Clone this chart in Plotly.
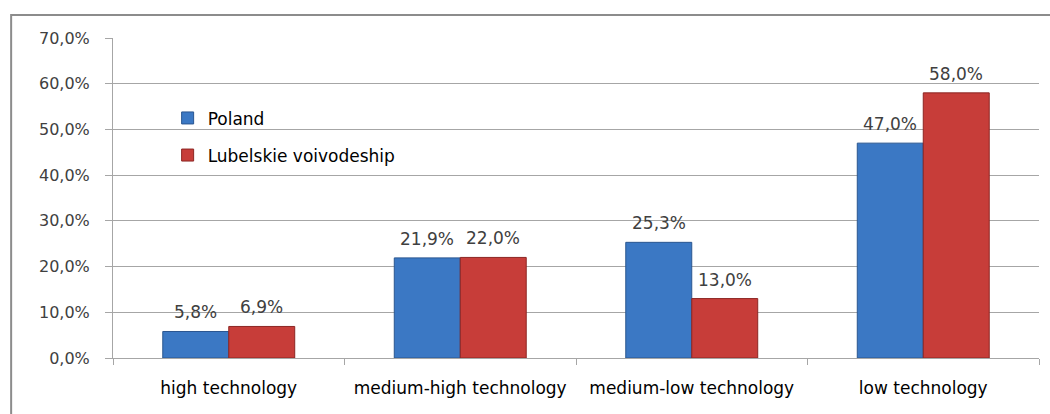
import plotly.graph_objects as go

categories = ["high technology", "medium-high technology", "medium-low technology", "low technology"]
poland = [5.8, 21.9, 25.3, 47.0]
lubelskie = [6.9, 22.0, 13.0, 58.0]
series_names = ["Poland", "Lubelskie voivodeship"]
y_ticks = [0, 10, 20, 30, 40, 50, 60, 70]
y_tick_labels = [f"{v:.1f}%".replace(".", ",") for v in y_ticks]

NUM_FONT = dict(family="DejaVu Sans", size=16, color="#404040")
LABEL_FONT = dict(family="DejaVu Sans", size=17, color="#404040")
GRID = "#a6a6a6"
BAR_HALF_OFFSET = 33  # px between group centre and each bar's centre

fig = go.Figure()
fig.add_trace(go.Bar(
    name=series_names[0], x=categories, y=poland,
    marker=dict(color="#3b78c4", line=dict(color="#2a5690", width=1)),
    legendgroup="a",
))
fig.add_trace(go.Bar(
    name=series_names[1], x=categories, y=lubelskie,
    marker=dict(color="#c73d39", line=dict(color="#8c2623", width=1)),
    legendgroup="b",
))

# value labels above each bar
annotations = []
for series, shift in ((poland, -BAR_HALF_OFFSET), (lubelskie, BAR_HALF_OFFSET)):
    for cat, val in zip(categories, series):
        annotations.append(dict(
            x=cat, y=val, xref="x", yref="y",
            text=f"{val:.1f}%".replace(".", ","),
            showarrow=False, xshift=shift, yshift=7,
            xanchor="center", yanchor="bottom", font=LABEL_FONT,
        ))

fig.update_layout(
    width=1050, height=414,
    margin=dict(l=113, r=11, t=38, b=56),
    paper_bgcolor="white", plot_bgcolor="white",
    separators=",.",
    barmode="group", bargap=0.43, bargroupgap=0,
    showlegend=True,
    legend=dict(
        x=0.059, y=0.805, xanchor="left", yanchor="top",
        bgcolor="rgba(0,0,0,0)", tracegroupgap=12,
        font=dict(family="DejaVu Sans", size=17, color="#000000"),
    ),
    xaxis=dict(
        showgrid=False, showline=True, linecolor=GRID, linewidth=1,
        ticks="outside", tickson="boundaries", ticklen=6, tickcolor=GRID,
        tickfont=dict(family="DejaVu Sans", size=17, color="#000000"),
        ticklabelstandoff=15,
    ),
    yaxis=dict(
        range=[0, 70], tickvals=y_ticks, ticktext=y_tick_labels,
        showgrid=True, gridcolor=GRID, gridwidth=1,
        showline=True, linecolor=GRID, linewidth=1, zeroline=False,
        ticks="outside", ticklen=7, tickcolor=GRID,
        tickfont=NUM_FONT, ticklabelstandoff=12,
    ),
    annotations=annotations,
    shapes=[dict(
        type="rect", xref="paper", yref="paper",
        x0=-0.110, x1=1.03, y0=-0.25, y1=1.072,
        line=dict(color="#8c8c8c", width=2), fillcolor="rgba(0,0,0,0)",
        layer="below",
    )],
)

fig.write_html("out.html")
